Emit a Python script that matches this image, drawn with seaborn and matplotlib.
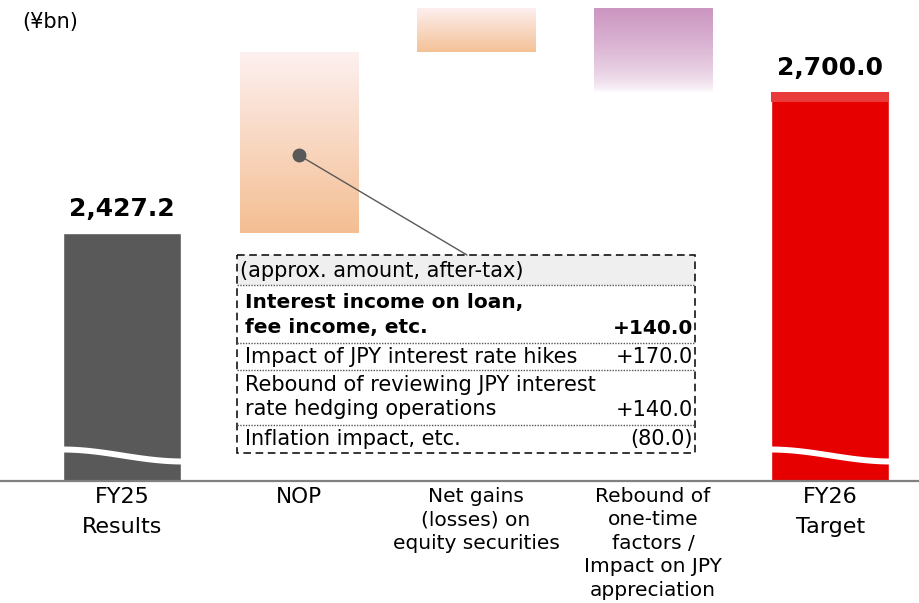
import numpy as np
import pandas as pd
import matplotlib
matplotlib.use('Agg')
import matplotlib.pyplot as plt
import matplotlib.colors as mcolors
from matplotlib.patches import Rectangle, ConnectionPatch
import seaborn as sns

# Dados do gráfico (¥bn)
categories = ['FY25\nResults', 'NOP', 'Net gains\n(losses) on\nequity securities',
              'Rebound of\none-time\nfactors /\nImpact on JPY\nappreciation', 'FY26\nTarget']
fy25_result = 2427.2
fy26_target = 2700.0
changes = [350.0, 85.0, -162.2]
total_labels = ['2,427.2', '2,700.0']

table_header = '(approx. amount, after-tax)'
table_items = ['Interest income on loan,\nfee income, etc.',
               'Impact of JPY interest rate hikes',
               'Rebound of reviewing JPY interest\nrate hedging operations',
               'Inflation impact, etc.']
table_values = ['+140.0', '+170.0', '+140.0', '(80.0)']

BAR_W = 0.667
YMIN, YMAX = 1947.4, 2878.0
GRADIENTS = [('#FDF0F0', '#F4BE92'), ('#FDEFEF', '#F4C196'), ('#CC96C1', '#FFFFFF')]


def gradient_bar(ax, x, y0, y1, top_col, bot_col, power=1.0):
    lo, hi = min(y0, y1), max(y0, y1)
    c_top = np.array(mcolors.to_rgb(top_col))
    c_bot = np.array(mcolors.to_rgb(bot_col))
    t = np.linspace(0, 1, 256)[:, None] ** power
    img = (c_bot * (1 - t) + c_top * t)[:, None, :]
    ax.imshow(img, extent=[x - BAR_W / 2, x + BAR_W / 2, lo, hi],
              origin='lower', aspect='auto', zorder=2)


def main():
    sns.set_theme(style='white')
    plt.rcParams['font.family'] = ['DejaVu Sans']
    plt.rcParams['text.color'] = 'black'
    plt.rcParams['xtick.color'] = 'black'

    fig = plt.figure(figsize=(9.2, 6.03), dpi=100)
    ax = fig.add_axes([0, 122 / 603, 1, 481 / 603])

    # Barras de total
    totals = pd.DataFrame({'category': [categories[0], categories[-1]],
                           'value': [fy25_result, fy26_target]})
    sns.barplot(data=totals, x='category', y='value', order=categories,
                hue='category', palette={categories[0]: '#595959', categories[-1]: '#E60000'},
                width=BAR_W, saturation=1, legend=False, ax=ax, zorder=2)

    # Faixa clara no topo do FY26
    px = (YMAX - YMIN) / 481
    ax.bar(4, 10 * px, bottom=fy26_target - 10 * px, width=BAR_W,
           color='#EA3B3B', linewidth=0, zorder=3)

    # Barras flutuantes com gradiente
    cum = fy25_result
    mids = []
    powers = [1.0, 1.0, 0.6]
    for i, (v, (ct, cb), pw) in enumerate(zip(changes, GRADIENTS, powers), start=1):
        gradient_bar(ax, i, cum, cum + v, ct, cb, pw)
        mids.append((cum, cum + v))
        cum += v

    # Quebra ondulada nas barras de total
    brk = YMIN + 26 * px
    t = np.linspace(0, 1, 100)
    for i in (0, 4):
        xs = np.linspace(i - BAR_W / 2 - 0.01, i + BAR_W / 2 + 0.01, 100)
        center = brk + 6 * px * np.cos(np.pi * t)
        ax.fill_between(xs, center - 3 * px, center + 3 * px,
                        color='white', linewidth=0, zorder=4)

    # Rótulos dos totais
    for i, val, lab in zip((0, 4), (fy25_result, fy26_target), total_labels):
        ax.annotate(lab, (i, val), xytext=(0, 9), textcoords='offset points',
                    ha='center', va='bottom', fontsize=18, fontweight='bold')

    ax.set_xlim(-0.689, 4.508)
    ax.set_ylim(YMIN, YMAX)
    ax.set_yticks([])
    ax.set_xlabel('')
    ax.set_ylabel('')
    ax.set_xticks(range(len(categories)))
    ax.set_xticklabels(categories)
    ax.tick_params(axis='x', length=0, pad=4, colors='black')
    for i, lbl in enumerate(ax.get_xticklabels()):
        if i in (0, 4):
            lbl.set_fontsize(16)
            lbl.set_linespacing(1.65)
        elif i == 1:
            lbl.set_fontsize(15.5)
        else:
            lbl.set_fontsize(14.5)
            lbl.set_linespacing(1.3)
    for sp in ('top', 'left', 'right'):
        ax.spines[sp].set_visible(False)
    ax.spines['bottom'].set_color('#808080')
    ax.spines['bottom'].set_linewidth(1.6)
    ax.patch.set_alpha(0)

    # Camada de anotação em pixels
    tab = fig.add_axes([0, 0, 1, 1])
    tab.set_xlim(0, 920)
    tab.set_ylim(603, 0)
    tab.axis('off')
    tab.patch.set_alpha(0)

    tab.text(22, 22, '(¥bn)', fontsize=15, va='center', ha='left')

    # Tabela de detalhamento
    bx0, bx1, by0, by1 = 237, 695, 255, 453
    tab.add_patch(Rectangle((bx0, by0), bx1 - bx0, 30, facecolor='#EFEFEF', edgecolor='none'))
    tab.add_patch(Rectangle((bx0, by0), bx1 - bx0, by1 - by0, facecolor='none',
                            edgecolor='black', linewidth=1.1, linestyle=(0, (5, 3))))
    for yy in (285, 343, 370, 425):
        tab.plot([bx0, bx1], [yy, yy], color='#555555', linewidth=1,
                 linestyle=(0, (1, 1)))
    tab.text(240, 271, table_header, fontsize=15, va='center', ha='left')

    item_y = [315, 357, 397, 439]
    value_y = [329, 357, 410, 439]
    for k, (item, val) in enumerate(zip(table_items, table_values)):
        weight = 'bold' if k == 0 else 'normal'
        size = 14.5 if k == 0 else 15
        tab.text(245, item_y[k], item, fontsize=size, fontweight=weight,
                 va='center', ha='left', linespacing=1.35 if k == 0 else 1.25)
        tab.text(693, value_y[k], val, fontsize=size, fontweight=weight,
                 va='center', ha='right')

    # Marcador e linha de conexão com a barra NOP
    lo, hi = mids[0]
    dot_y = lo + 0.43 * (hi - lo)
    ax.plot(1, dot_y, 'o', color='#595959', markersize=9, zorder=5)
    con = ConnectionPatch(xyA=(1, dot_y), coordsA=ax.transData,
                          xyB=(467, by0), coordsB=tab.transData,
                          color='#595959', linewidth=1)
    fig.add_artist(con)

    fig.savefig('out.png', dpi=100)


if __name__ == '__main__':
    main()
